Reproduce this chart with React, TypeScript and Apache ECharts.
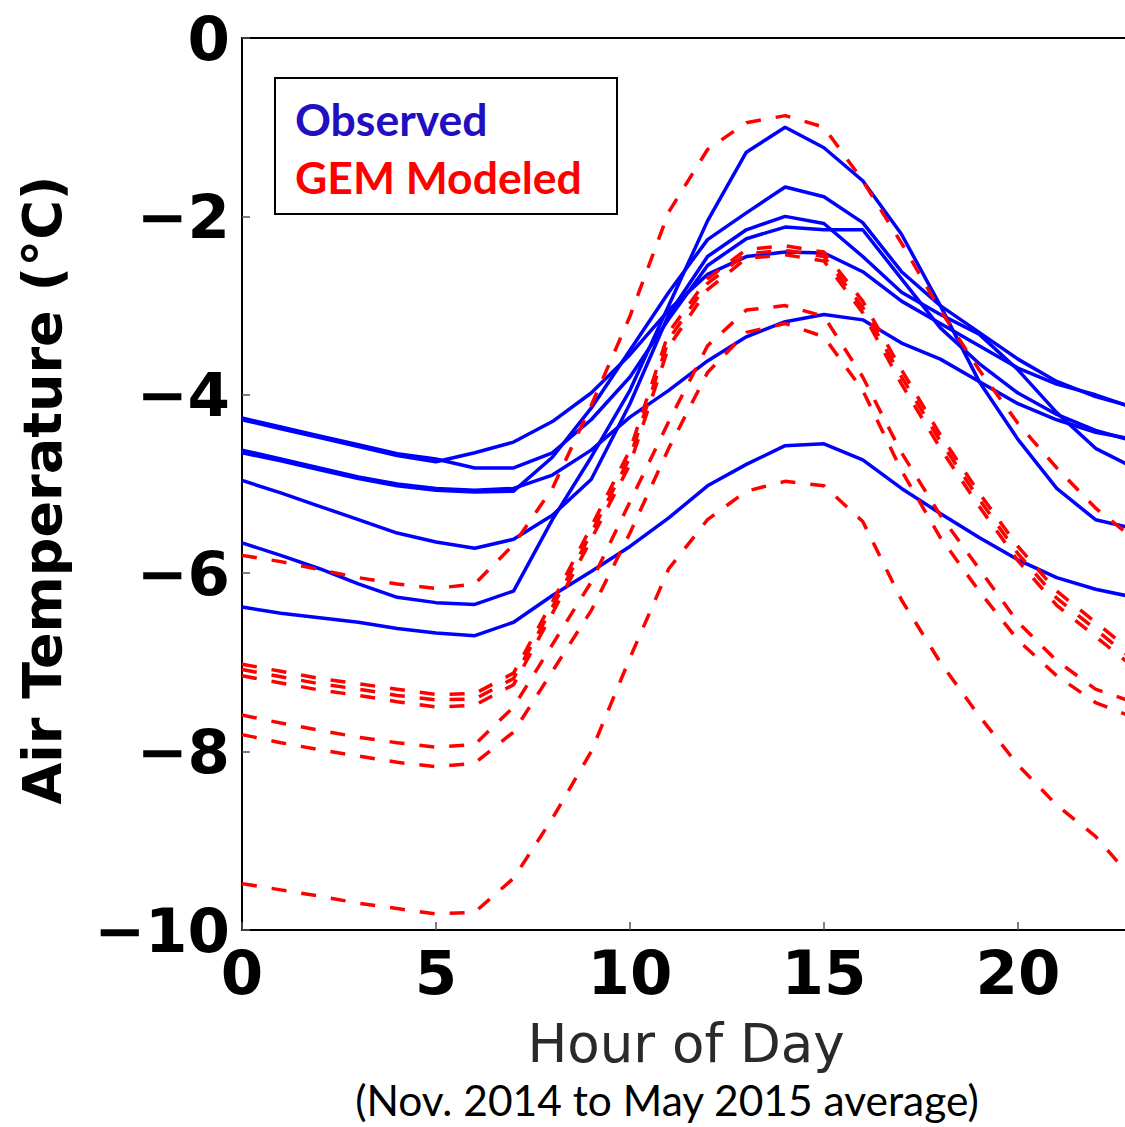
import React, { useEffect, useRef } from "react";
import * as echarts from "echarts";

// Hour of day (x values)
const HOURS = [0, 1, 2, 3, 4, 5, 6, 7, 8, 9, 10, 11, 12, 13, 14, 15, 16, 17, 18, 19, 20, 21, 22, 23];
const X_TICKS = [0, 5, 10, 15, 20];
const Y_TICKS = [0, -2, -4, -6, -8, -10];

// Observed (blue, solid)
const OBS_A = [-4.28, -4.38, -4.48, -4.58, -4.68, -4.75, -4.65, -4.53, -4.3, -3.98, -3.55, -3.05, -2.65, -2.45, -2.4, -2.41, -2.62, -2.95, -3.2, -3.45, -3.7, -3.88, -4.0, -4.15];
const OBS_B = [-4.26, -4.36, -4.46, -4.56, -4.66, -4.72, -4.82, -4.82, -4.65, -4.28, -3.8, -3.15, -2.55, -2.25, -2.12, -2.15, -2.15, -2.7, -3.25, -3.65, -3.98, -4.22, -4.4, -4.52];
const OBS_C = [-4.62, -4.72, -4.82, -4.92, -5.0, -5.05, -5.07, -5.05, -4.9, -4.62, -4.25, -3.95, -3.62, -3.35, -3.18, -3.1, -3.16, -3.42, -3.6, -3.85, -4.1, -4.28, -4.42, -4.5];
const OBS_D = [-4.65, -4.74, -4.84, -4.94, -5.02, -5.07, -5.09, -5.08, -4.7, -4.15, -3.5, -2.85, -2.26, -1.96, -1.67, -1.78, -2.07, -2.62, -3.0, -3.3, -3.6, -3.85, -4.02, -4.14];
const OBS_E = [-4.96, -5.1, -5.25, -5.4, -5.55, -5.65, -5.72, -5.62, -5.35, -4.95, -4.1, -3.1, -2.45, -2.15, -2.0, -2.08, -2.45, -2.85, -3.1, -3.32, -3.72, -4.2, -4.6, -4.82];
const OBS_F = [-5.66, -5.8, -5.95, -6.12, -6.27, -6.33, -6.35, -6.2, -5.4, -4.7, -3.95, -3.0, -2.05, -1.28, -1.0, -1.23, -1.6, -2.2, -3.0, -3.85, -4.5, -5.05, -5.4, -5.5];
const OBS_G = [-6.38, -6.45, -6.5, -6.55, -6.62, -6.67, -6.7, -6.55, -6.25, -5.98, -5.7, -5.38, -5.02, -4.78, -4.57, -4.55, -4.73, -5.05, -5.33, -5.6, -5.85, -6.05, -6.18, -6.27];

// GEM Modeled (red, dashed)
const MOD_1 = [-5.8, -5.87, -5.96, -6.05, -6.12, -6.17, -6.12, -5.68, -5.05, -4.12, -3.12, -1.95, -1.25, -0.95, -0.87, -1.0, -1.6, -2.3, -3.05, -3.72, -4.32, -4.82, -5.27, -5.62];
const MOD_2 = [-7.02, -7.1, -7.18, -7.24, -7.3, -7.36, -7.35, -7.12, -6.32, -5.48, -4.62, -3.3, -2.7, -2.37, -2.33, -2.4, -2.95, -3.72, -4.45, -5.1, -5.7, -6.2, -6.55, -6.9];
const MOD_3 = [-7.08, -7.16, -7.24, -7.3, -7.37, -7.42, -7.41, -7.18, -6.38, -5.55, -4.7, -3.38, -2.75, -2.42, -2.38, -2.45, -3.02, -3.8, -4.52, -5.17, -5.78, -6.28, -6.63, -6.98];
const MOD_4 = [-7.15, -7.23, -7.31, -7.37, -7.44, -7.5, -7.48, -7.25, -6.45, -5.62, -4.78, -3.46, -2.82, -2.47, -2.43, -2.5, -3.08, -3.88, -4.6, -5.25, -5.86, -6.36, -6.71, -7.06];
const MOD_5 = [-7.59, -7.68, -7.76, -7.84, -7.9, -7.95, -7.92, -7.5, -6.8, -6.1, -5.2, -4.3, -3.45, -3.05, -3.0, -3.12, -3.8, -4.65, -5.35, -5.95, -6.55, -6.98, -7.3, -7.45];
const MOD_6 = [-7.81, -7.9, -7.98, -8.05, -8.12, -8.17, -8.13, -7.78, -7.1, -6.42, -5.55, -4.6, -3.75, -3.3, -3.2, -3.35, -3.95, -4.85, -5.6, -6.2, -6.75, -7.15, -7.45, -7.62];
const MOD_7 = [-9.48, -9.55, -9.62, -9.7, -9.76, -9.82, -9.8, -9.42, -8.75, -8.0, -6.95, -5.95, -5.4, -5.08, -4.97, -5.02, -5.42, -6.3, -7.0, -7.6, -8.15, -8.6, -8.95, -9.45];

const OBSERVED = [OBS_A, OBS_B, OBS_C, OBS_D, OBS_E, OBS_F, OBS_G];
const MODELED = [MOD_1, MOD_2, MOD_3, MOD_4, MOD_5, MOD_6, MOD_7];

const toPairs = (vals: number[]) => HOURS.map((h, i) => [h, vals[i]]);

export default function App() {
  const ref = useRef<HTMLDivElement>(null);
  useEffect(() => {
    if (!ref.current) return;
    const chart = echarts.init(ref.current, null, { renderer: "svg" });
    const tickFont = {
      fontFamily: "DejaVu Sans",
      fontWeight: "bold" as const,
      fontSize: 61,
      color: "#000",
    };
    const frame = { show: true, onZero: false, lineStyle: { color: "#000", width: 2 } };
    const tick = { show: true, inside: true, length: 8, lineStyle: { color: "#555", width: 1.5 } };
    const series: any[] = [];
    OBSERVED.forEach((vals, i) => {
      series.push({
        name: "Observed " + (i + 1),
        type: "line",
        data: toPairs(vals),
        showSymbol: false,
        symbol: "none",
        clip: true,
        lineStyle: { color: "#0000ff", width: 3.5 },
        z: 2,
      });
    });
    MODELED.forEach((vals, i) => {
      series.push({
        name: "GEM Modeled " + (i + 1),
        type: "line",
        data: toPairs(vals),
        showSymbol: false,
        symbol: "none",
        clip: true,
        lineStyle: { color: "#ff0000", width: 3.5, type: [15, 15] },
        z: 3,
      });
    });
    chart.setOption({
      animation: false,
      backgroundColor: "#fff",
      grid: {
        left: 242,
        top: 38,
        right: 0,
        height: 892,
        show: false,
      },
      xAxis: [
        {
          type: "value",
          position: "bottom",
          min: 0,
          max: 22.76,
          interval: 5,
          axisLine: frame,
          splitLine: { show: false },
          axisTick: tick,
          axisLabel: {
            ...tickFont,
            margin: 12,
            showMaxLabel: false,
            formatter: (v: number) => (X_TICKS.includes(v) ? String(v) : ""),
          },
        },
        {
          type: "value",
          position: "top",
          min: 0,
          max: 22.76,
          interval: 5,
          axisLine: frame,
          splitLine: { show: false },
          axisTick: { show: false },
          axisLabel: { show: false },
        },
      ],
      yAxis: [
        {
          type: "value",
          min: -10,
          max: 0,
          interval: 2,
          axisLine: frame,
          splitLine: { show: false },
          axisTick: tick,
          axisLabel: {
            ...tickFont,
            margin: 12,
            formatter: (v: number) =>
              Y_TICKS.includes(v) ? (v < 0 ? "\u2212" + Math.abs(v) : "0") : "",
          },
        },
      ],
      series,
      graphic: [
        {
          type: "text",
          x: 42,
          y: 490,
          rotation: Math.PI / 2,
          style: {
            text: "Air Temperature (°C)",
            fontFamily: "DejaVu Sans",
            fontWeight: "bold",
            fontSize: 54,
            fill: "#000",
            align: "center",
            verticalAlign: "middle",
          },
        },
        {
          type: "text",
          x: 686,
          y: 1043,
          style: {
            text: "Hour of Day",
            fontFamily: "DejaVu Sans",
            fontSize: 53,
            fill: "#2a2a2a",
            align: "center",
            verticalAlign: "middle",
          },
        },
        {
          type: "text",
          x: 667,
          y: 1099,
          style: {
            text: "(Nov. 2014 to May 2015 average)",
            fontFamily: "Lato",
            fontSize: 42.5,
            fill: "#000",
            align: "center",
            verticalAlign: "middle",
          },
        },
        {
          type: "rect",
          z: 100,
          shape: { x: 275, y: 78, width: 342, height: 136 },
          style: { fill: "#fff", stroke: "#000", lineWidth: 2 },
        },
        {
          type: "text",
          z: 101,
          x: 295,
          y: 118,
          style: {
            text: "Observed",
            fontFamily: "Lato",
            fontWeight: "bold",
            fontSize: 44.5,
            fill: "#2010c0",
            align: "left",
            verticalAlign: "middle",
          },
        },
        {
          type: "text",
          z: 101,
          x: 295,
          y: 176,
          style: {
            text: "GEM Modeled",
            fontFamily: "Lato",
            fontWeight: "bold",
            fontSize: 44.5,
            fill: "#ff0000",
            align: "left",
            verticalAlign: "middle",
          },
        },
      ],
    });
    return () => chart.dispose();
  }, []);
  return (
    <div
      ref={ref}
      style={{ position: "absolute", left: 0, top: 0, width: 1125, height: 1127 }}
    />
  );
}
